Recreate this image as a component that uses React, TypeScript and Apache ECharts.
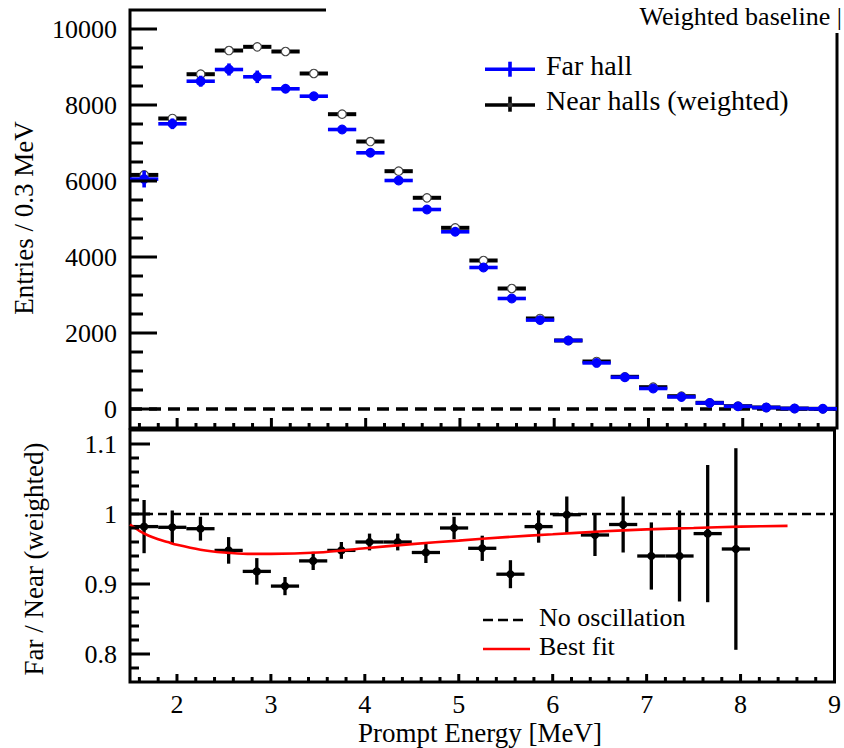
import React, { useEffect, useRef } from "react";
import * as echarts from "echarts";

// Prompt-energy bins (0.3 MeV wide), bin centres in MeV
const BIN_WIDTH = 0.3;
const binCenters = [
  1.65, 1.95, 2.25, 2.55, 2.85, 3.15, 3.45, 3.75, 4.05, 4.35, 4.65, 4.95, 5.25,
  5.55, 5.85, 6.15, 6.45, 6.75, 7.05, 7.35, 7.65, 7.95, 8.25, 8.55, 8.85,
];

// Near halls, weighted to the far-hall baseline (entries / 0.3 MeV)
const nearHalls = [
  6160, 7645, 8810, 9434, 9531, 9408, 8829, 7758, 7039, 6258, 5558, 4768, 3908,
  3171, 2382, 1803, 1250, 847, 574, 337, 163, 74, 40, 13, 5,
];
const nearHallsErr = [
  60, 65, 70, 70, 70, 70, 65, 60, 55, 50, 45, 40, 35, 30, 25, 20, 18, 15, 12, 9,
  6, 4, 3, 2, 1,
];

// Far hall (entries / 0.3 MeV)
const farHall = [
  6050, 7505, 8626, 8934, 8742, 8426, 8232, 7355, 6742, 6013, 5250, 4663, 3724,
  2908, 2340, 1803, 1213, 834, 540, 317, 158, 70, 38, 12, 5,
];
const farHallErr = [
  220, 140, 145, 160, 165, 100, 95, 90, 85, 80, 75, 70, 62, 55, 50, 43, 36, 30,
  24, 18, 13, 9, 6, 4, 2,
];

// Far / Near (weighted) ratio for the first 22 bins
const ratio = [
  0.982, 0.981, 0.979, 0.948, 0.918, 0.897, 0.933, 0.948, 0.96, 0.96, 0.945,
  0.98, 0.951, 0.914, 0.982, 0.999, 0.97, 0.985, 0.94, 0.94, 0.972, 0.95,
];
const ratioErr = [
  0.038, 0.024, 0.017, 0.019, 0.019, 0.013, 0.013, 0.012, 0.012, 0.012, 0.015,
  0.016, 0.018, 0.02, 0.023, 0.026, 0.03, 0.04, 0.048, 0.065, 0.098, 0.144,
];

// Best-fit oscillation curve
const fitEnergy = [
  1.5, 1.6, 1.7, 1.8, 1.9, 2.0, 2.25, 2.5, 2.75, 3.0, 3.5, 4.0, 4.5, 5.0, 5.5,
  6.0, 6.5, 7.0, 7.5, 8.0, 8.5,
];
const fitRatio = [
  0.985, 0.976, 0.969, 0.964, 0.96, 0.956, 0.949, 0.945, 0.943, 0.943, 0.945,
  0.951, 0.957, 0.962, 0.967, 0.971, 0.975, 0.978, 0.98, 0.982, 0.983,
];

// Axis ranges and tick labels
const X_MIN = 1.5;
const X_MAX = 9;
const TOP_Y_MIN = -500;
const TOP_Y_MAX = 10500;
const BOT_Y_MIN = 0.76;
const BOT_Y_MAX = 1.12;
const xLabels = [2, 3, 4, 5, 6, 7, 8, 9];
const topYLabels = [0, 2000, 4000, 6000, 8000, 10000];
const botYLabels = [0.8, 0.9, 1, 1.1];

const FONT = "Liberation Serif";

// [value, isMajor] pairs for tick marks between `from` and `to`
function tickList(from: number, to: number, step: number, majorStep: number) {
  const out: number[][] = [];
  const n = Math.round((to - from) / step);
  for (let i = 0; i <= n; i++) {
    const v = +(from + i * step).toFixed(6);
    const r = v / majorStep;
    const isMajor = Math.abs(r - Math.round(r)) < 1e-6 ? 1 : 0;
    out.push([v, isMajor]);
  }
  return out;
}

const xTicks = tickList(1.6, 8.8, 0.2, 1);
const topYTicks = tickList(0, 10000, 500, 2000);
const botYTicks = tickList(0.78, 1.1, 0.02, 0.1);

function xTickRender(yBase: number, majorLen: number, minorLen: number) {
  return (_p: any, api: any) => {
    const v = api.value(0);
    const major = api.value(1) === 1;
    const p = api.coord([v, yBase]);
    const len = major ? majorLen : minorLen;
    return {
      type: "line",
      shape: { x1: p[0], y1: p[1], x2: p[0], y2: p[1] - len },
      style: { stroke: "#000", lineWidth: 3 },
    };
  };
}

function yTickRender(xBase: number, majorLen: number, minorLen: number) {
  return (_p: any, api: any) => {
    const v = api.value(0);
    const major = api.value(1) === 1;
    const p = api.coord([xBase, v]);
    const len = major ? majorLen : minorLen;
    return {
      type: "line",
      shape: { x1: p[0], y1: p[1], x2: p[0] + len, y2: p[1] },
      style: { stroke: "#000", lineWidth: 3 },
    };
  };
}

// horizontal bin bar + vertical error bar + marker
function errorBarRender(
  color: string,
  barWidth: number,
  radius: number,
  fill: string,
  stroke: string
) {
  return (_p: any, api: any) => {
    const x = api.value(0);
    const y = api.value(1);
    const e = api.value(2);
    const l = api.coord([x - BIN_WIDTH / 2, y]);
    const r = api.coord([x + BIN_WIDTH / 2, y]);
    const t = api.coord([x, y + e]);
    const b = api.coord([x, y - e]);
    const c = api.coord([x, y]);
    return {
      type: "group",
      children: [
        {
          type: "line",
          shape: { x1: l[0], y1: l[1], x2: r[0], y2: r[1] },
          style: { stroke: color, lineWidth: barWidth },
        },
        {
          type: "line",
          shape: { x1: t[0], y1: t[1], x2: b[0], y2: b[1] },
          style: { stroke: color, lineWidth: barWidth },
        },
        {
          type: "circle",
          shape: { cx: c[0], cy: c[1], r: radius },
          style: { fill, stroke, lineWidth: 1.2 },
        },
      ],
    };
  };
}

const hiddenAxis = {
  axisLine: { show: false },
  axisTick: { show: false },
  splitLine: { show: false },
};

const labelStyle = {
  fontFamily: FONT,
  fontSize: 26,
  color: "#000",
};

const textStyle = (text: string, size: number, align = "left") => ({
  text,
  fill: "#000",
  fontFamily: FONT,
  fontSize: size,
  align,
  verticalAlign: "middle",
});

function buildOption() {
  const nearData = binCenters.map((x, i) => [x, nearHalls[i], nearHallsErr[i]]);
  const farData = binCenters.map((x, i) => [x, farHall[i], farHallErr[i]]);
  const ratioData = ratio.map((r, i) => [binCenters[i], r, ratioErr[i]]);
  const fitData = fitEnergy.map((e, i) => [e, fitRatio[i]]);

  return {
    animation: false,
    backgroundColor: "#fff",
    textStyle: { fontFamily: FONT },
    grid: [
      {
        left: 130,
        right: 7,
        top: 10,
        height: 418,
        show: true,
        borderColor: "#000",
        borderWidth: 3,
        backgroundColor: "transparent",
      },
      {
        left: 130,
        right: 7,
        top: 430,
        height: 252,
        show: true,
        borderColor: "#000",
        borderWidth: 3,
        backgroundColor: "transparent",
      },
    ],
    xAxis: [
      {
        type: "value",
        gridIndex: 0,
        min: X_MIN,
        max: X_MAX,
        ...hiddenAxis,
        axisLabel: { show: false },
      },
      {
        type: "value",
        gridIndex: 1,
        min: X_MIN,
        max: X_MAX,
        ...hiddenAxis,
        axisLabel: {
          ...labelStyle,
          margin: 9,
          customValues: xLabels,
          formatter: (v: number) => String(v),
        },
      },
    ],
    yAxis: [
      {
        type: "value",
        gridIndex: 0,
        min: TOP_Y_MIN,
        max: TOP_Y_MAX,
        ...hiddenAxis,
        axisLabel: {
          ...labelStyle,
          margin: 13,
          customValues: topYLabels,
          formatter: (v: number) => String(v),
        },
      },
      {
        type: "value",
        gridIndex: 1,
        min: BOT_Y_MIN,
        max: BOT_Y_MAX,
        ...hiddenAxis,
        axisLabel: {
          ...labelStyle,
          margin: 13,
          customValues: botYLabels,
          formatter: (v: number) => String(v),
        },
      },
    ],
    series: [
      // zero reference in the spectrum panel
      {
        type: "line",
        xAxisIndex: 0,
        yAxisIndex: 0,
        data: [
          [X_MIN, 0],
          [X_MAX, 0],
        ],
        symbol: "none",
        silent: true,
        lineStyle: { color: "#000", width: 3.5, type: [12, 7] },
        z: 1,
      },
      {
        type: "custom",
        name: "Near halls (weighted)",
        xAxisIndex: 0,
        yAxisIndex: 0,
        data: nearData,
        encode: { x: 0, y: 1 },
        renderItem: errorBarRender("#000", 4, 4.2, "#fff", "#444"),
        z: 2,
      },
      {
        type: "custom",
        name: "Far hall",
        xAxisIndex: 0,
        yAxisIndex: 0,
        data: farData,
        encode: { x: 0, y: 1 },
        renderItem: errorBarRender("#0000ff", 3.6, 4.3, "#0000ff", "#0000ff"),
        z: 3,
      },
      // no-oscillation line in the ratio panel
      {
        type: "line",
        xAxisIndex: 1,
        yAxisIndex: 1,
        data: [
          [X_MIN, 1],
          [X_MAX, 1],
        ],
        symbol: "none",
        silent: true,
        lineStyle: { color: "#000", width: 2.5, type: [9, 5] },
        z: 1,
      },
      {
        type: "custom",
        name: "Far / Near",
        xAxisIndex: 1,
        yAxisIndex: 1,
        data: ratioData,
        encode: { x: 0, y: 1 },
        renderItem: errorBarRender("#000", 3.3, 3.5, "#000", "#000"),
        z: 2,
      },
      {
        type: "line",
        name: "Best fit",
        xAxisIndex: 1,
        yAxisIndex: 1,
        data: fitData,
        smooth: 0.3,
        symbol: "none",
        silent: true,
        lineStyle: { color: "#ff0000", width: 2.6 },
        z: 3,
      },
      // tick marks drawn inside the frames
      {
        type: "custom",
        xAxisIndex: 0,
        yAxisIndex: 0,
        data: xTicks,
        renderItem: xTickRender(TOP_Y_MIN, 10, 5),
        silent: true,
        z: 4,
      },
      {
        type: "custom",
        xAxisIndex: 0,
        yAxisIndex: 0,
        data: topYTicks,
        renderItem: yTickRender(X_MIN, 27, 13),
        silent: true,
        z: 4,
      },
      {
        type: "custom",
        xAxisIndex: 1,
        yAxisIndex: 1,
        data: xTicks,
        renderItem: xTickRender(BOT_Y_MIN, 8, 5),
        silent: true,
        z: 4,
      },
      {
        type: "custom",
        xAxisIndex: 1,
        yAxisIndex: 1,
        data: botYTicks,
        renderItem: yTickRender(X_MIN, 20, 9),
        silent: true,
        z: 4,
      },
    ],
    graphic: [
      // title box over the upper-right of the frame
      {
        type: "rect",
        z: 100,
        shape: { x: 326, y: 0, width: 518, height: 33 },
        style: { fill: "#fff" },
      },
      {
        type: "text",
        z: 101,
        x: 842,
        y: 16,
        style: textStyle("Weighted baseline |", 26, "right"),
      },
      // spectrum legend
      {
        type: "line",
        z: 101,
        shape: { x1: 485, y1: 69.3, x2: 535, y2: 69.3 },
        style: { stroke: "#0000ff", lineWidth: 3.6 },
      },
      {
        type: "line",
        z: 101,
        shape: { x1: 510, y1: 61.7, x2: 510, y2: 76.7 },
        style: { stroke: "#0000ff", lineWidth: 3.6 },
      },
      {
        type: "text",
        z: 101,
        x: 546,
        y: 65.5,
        style: textStyle("Far hall", 28),
      },
      {
        type: "line",
        z: 101,
        shape: { x1: 485, y1: 105, x2: 535, y2: 105 },
        style: { stroke: "#000", lineWidth: 3.6 },
      },
      {
        type: "line",
        z: 101,
        shape: { x1: 510, y1: 96.7, x2: 510, y2: 111.7 },
        style: { stroke: "#000", lineWidth: 3.6 },
      },
      {
        type: "circle",
        z: 102,
        shape: { cx: 510, cy: 105, r: 2.5 },
        style: { fill: "#333" },
      },
      {
        type: "text",
        z: 101,
        x: 546,
        y: 100,
        style: textStyle("Near halls (weighted)", 28),
      },
      // ratio legend
      {
        type: "line",
        z: 101,
        shape: { x1: 483, y1: 620, x2: 527, y2: 620 },
        style: { stroke: "#000", lineWidth: 2.6, lineDash: [10, 5] },
      },
      {
        type: "text",
        z: 101,
        x: 539,
        y: 617,
        style: textStyle("No oscillation", 26),
      },
      {
        type: "line",
        z: 101,
        shape: { x1: 483, y1: 649, x2: 530, y2: 649 },
        style: { stroke: "#ff0000", lineWidth: 2.6 },
      },
      {
        type: "text",
        z: 101,
        x: 539,
        y: 646,
        style: textStyle("Best fit", 26),
      },
      // axis titles
      {
        type: "text",
        z: 101,
        x: 24,
        y: 218,
        rotation: Math.PI / 2,
        style: textStyle("Entries / 0.3 MeV", 27, "center"),
      },
      {
        type: "text",
        z: 101,
        x: 34,
        y: 559,
        rotation: Math.PI / 2,
        style: textStyle("Far / Near (weighted)", 27, "center"),
      },
      {
        type: "text",
        z: 101,
        x: 480,
        y: 733,
        style: textStyle("Prompt Energy [MeV]", 27, "center"),
      },
    ],
  };
}

export default function App() {
  const ref = useRef<HTMLDivElement>(null);
  useEffect(() => {
    if (!ref.current) return;
    const chart = echarts.init(ref.current, undefined, { renderer: "svg" });
    chart.setOption(buildOption() as any);
    return () => chart.dispose();
  }, []);
  return (
    <div
      ref={ref}
      style={{ position: "fixed", left: 0, top: 0, width: 844, height: 748, background: "#fff" }}
    />
  );
}
